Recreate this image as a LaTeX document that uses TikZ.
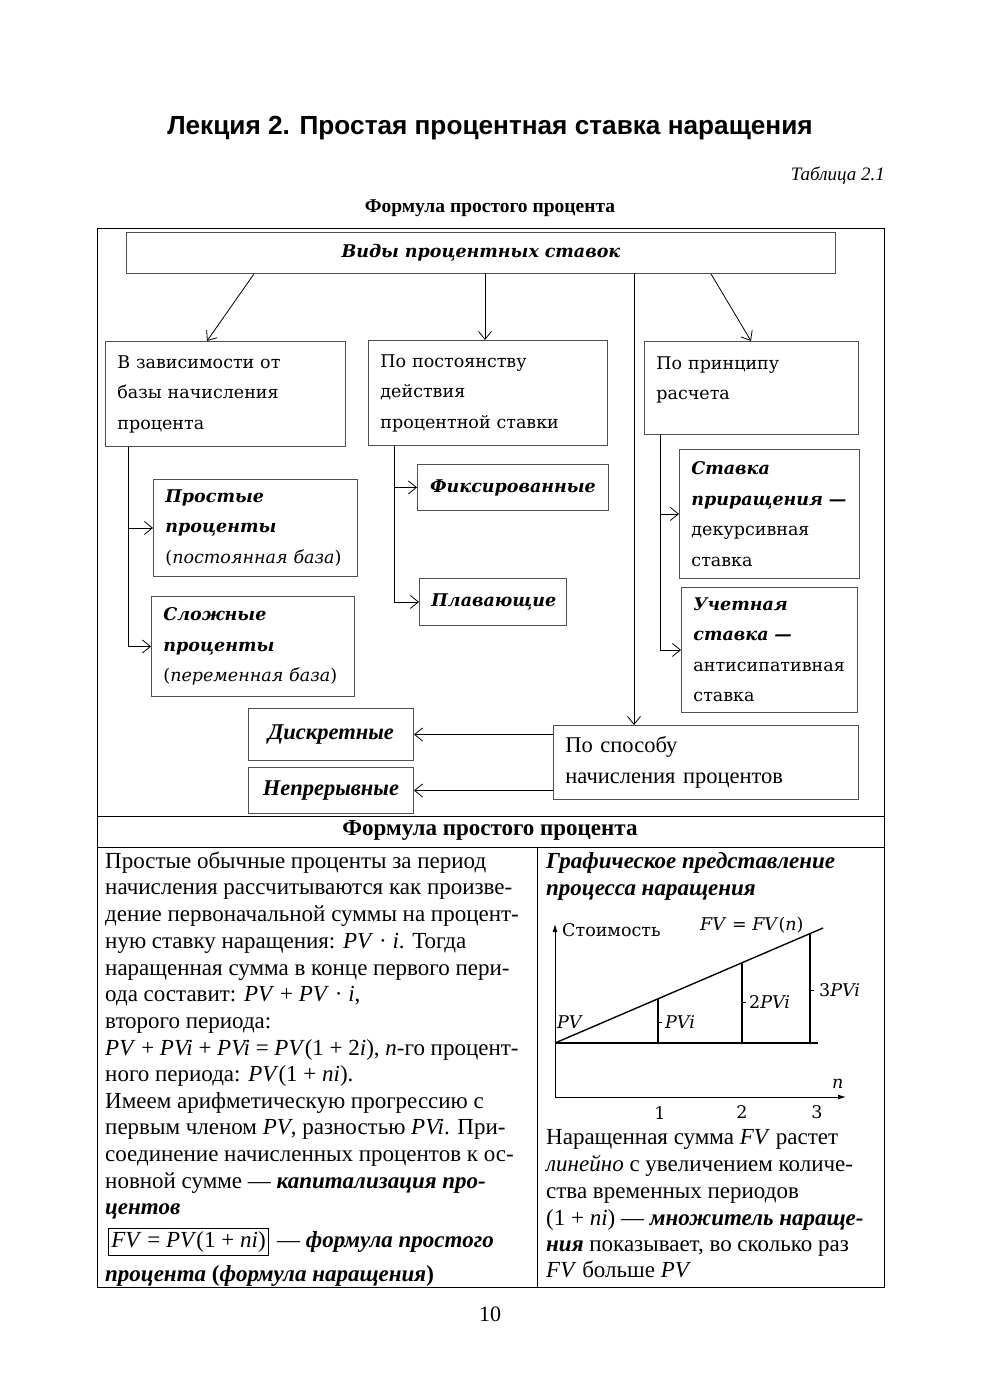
\documentclass[tikz,border=0pt]{standalone}
\usepackage{fontspec}
\setmainfont{Liberation Serif}
\newfontfamily\dvfont{DejaVu Serif}
\newfontfamily\hdfont{Liberation Sans}
\usetikzlibrary{arrows.meta,calc}
\definecolor{boxgray}{HTML}{505050}
\newcommand\boxfnt{\dvfont\fontsize{17.5}{30.5}\selectfont}
\newcommand\tmsfnt{\fontsize{22.5}{30.5}\selectfont}
\newcommand\bi{\bfseries\itshape}
\begin{document}
\begin{tikzpicture}[x=1pt,y=-1pt,
  box/.style={draw=boxgray, line width=0.9pt, rectangle, inner ysep=0pt, inner xsep=12pt,
    anchor=north west, align=left, font=\boxfnt},
  cbox/.style={box, align=center},
  arr/.style={line width=0.8pt, -{Straight Barb[length=8pt,width=13pt]}},
  ln/.style={line width=0.8pt},
  txt/.style={anchor=base west, inner sep=0pt, font=\fontsize{23}{26}\selectfont},
  gtxt/.style={anchor=west, inner sep=0pt, font=\dvfont\fontsize{17.5}{20}\selectfont},
]
\useasboundingbox (0,0) rectangle (980,1386);
% headings
\node[font=\hdfont\bfseries\fontsize{26.2}{30}\selectfont, inner sep=0pt] (title) at (490,128) {Лекция 2. Простая процентная ставка наращения};
\node[font=\itshape\fontsize{19}{22}\selectfont, anchor=east, inner sep=0pt] (tab) at (885,176) {Таблица 2.1};
\node[font=\bfseries\fontsize{19.5}{22}\selectfont, inner sep=0pt] (cap) at (490,208) {Формула простого процента};
% frame
\draw[line width=0.9pt] (97,228) rectangle (884,1287);
\draw[line width=0.9pt] (97,816) -- (884,816);
\draw[line width=0.9pt] (97,847) -- (884,847);
\draw[line width=0.9pt] (537,847) -- (537,1287);
% top diagram
\node[cbox, text width=685pt, minimum height=41pt, font=\boxfnt\bi] (top) at (126,232) {Виды процентных ставок};
\node[box, text width=216pt, minimum height=105pt] (A) at (105,341) {В зависимости от\\базы начисления\\процента};
\node[box, text width=215pt, minimum height=105pt] (B) at (368,340) {По постоянству\\действия\\процентной ставки};
\node[box, text width=190pt, minimum height=93pt] (C) at (644,341) {По принципу\\расчета\\[-11pt]\mbox{}};
\node[box, text width=180pt, minimum height=97pt] (S1) at (153,479) {{\bi Простые}\\{\bi проценты}\\(\textit{постоянная база})};
\node[box, text width=179pt, minimum height=100pt] (S2) at (151,596) {{\bi Сложные}\\{\bi проценты}\\(\textit{переменная база})};
\node[cbox, text width=167pt, minimum height=46pt, font=\boxfnt\bi] (F) at (417,464) {Фиксированные};
\node[cbox, text width=123pt, minimum height=47pt, font=\boxfnt\bi] (Pl) at (419,578) {Плавающие};
\node[box, text width=156pt, minimum height=129pt] (R1) at (679,449) {{\bi Ставка}\\{\bi приращения —}\\декурсивная\\ставка};
\node[box, text width=152pt, minimum height=125pt] (R2) at (681,587) {{\bi Учетная}\\{\bi ставка —}\\антисипативная\\ставка};
\node[box, text width=281pt, minimum height=74pt, font=\tmsfnt] (P) at (553,725) {По способу\\начисления процентов};
\node[cbox, text width=141pt, minimum height=52pt, font=\tmsfnt\bi] (D) at (248,708) {Дискретные};
\node[cbox, text width=141pt, minimum height=46pt, font=\tmsfnt\bi] (N) at (248,767) {Непрерывные};
% connectors
\draw[arr] (254,0 |- top.south) -- (207,0 |- A.north);
\draw[arr] (485,0 |- top.south) -- (485,0 |- B.north);
\draw[arr] (711,0 |- top.south) -- (751,0 |- C.north);
\draw[arr] (634,0 |- top.south) -- (634,0 |- P.north);
\draw[ln] (128,0 |- A.south) -- (128,0 |- S2.west);
\draw[arr] (128,0 |- S1.west) -- (S1.west);
\draw[arr] (128,0 |- S2.west) -- (S2.west);
\draw[ln] (394,0 |- B.south) -- (394,0 |- Pl.west);
\draw[arr] (394,0 |- F.west) -- (F.west);
\draw[arr] (394,0 |- Pl.west) -- (Pl.west);
\draw[ln] (660,0 |- C.south) -- (660,0 |- R2.west);
\draw[arr] (660,0 |- R1.west) -- (R1.west);
\draw[arr] (660,0 |- R2.west) -- (R2.west);
\draw[arr] (P.west |- D.east) -- (D.east);
\draw[arr] (P.west |- N.east) -- (N.east);
% table row heading
\node[font=\bfseries\fontsize{23}{26}\selectfont, inner sep=0pt] (row) at (490,830) {Формула простого процента};
% left column
\node[txt] (l1) at (105,868) {Простые обычные проценты за период};
\node[txt] (l2) at (105,894.5) {начисления рассчитываются как произве-};
\node[txt] (l3) at (105,921) {дение первоначальной суммы на процент-};
\node[txt] (l4) at (105,948) {ную ставку наращения: \textit{PV} · \textit{i}. Тогда};
\node[txt] (l5) at (105,975) {наращенная сумма в конце первого пери-};
\node[txt] (l6) at (105,1001.5) {ода составит: \textit{PV} + \textit{PV} · \textit{i},};
\node[txt] (l7) at (105,1028) {второго периода:};
\node[txt] (l8) at (105,1055) {\textit{PV} + \textit{PVi} + \textit{PVi} = \textit{PV}(1 + 2\textit{i}), \textit{n}-го процент-};
\node[txt] (l9) at (105,1081) {ного периода: \textit{PV}(1 + \textit{ni}).};
\node[txt] (l10) at (105,1108) {Имеем арифметическую прогрессию с};
\node[txt] (l11) at (105,1134.5) {первым членом \textit{PV}, разностью \textit{PVi}. При-};
\node[txt] (l12) at (105,1161) {соединение начисленных процентов к ос-};
\node[txt] (l13) at (105,1188) {новной сумме — {\bi капитализация про-}};
\node[txt] (l14) at (105,1214.5) {\bi центов};
\node[draw, line width=0.8pt, inner xsep=3pt, inner ysep=3pt, anchor=base west, font=\fontsize{23}{26}\selectfont] (fml) at (108,1247) {\textit{FV} = \textit{PV}(1 + \textit{ni})};
\node[txt] (l15) at (277,1247) {— {\bi формула простого}};
\node[txt] (l16) at (105,1281) {{\bi процента} \textbf{(}{\bi формула наращения}\textbf{)}};
% right column
\node[txt] (r1) at (546,868) {\bi Графическое представление};
\node[txt] (r2) at (546,895) {\bi процесса наращения};
% graph
\coordinate (g0) at (555,1097);
\coordinate (gy) at (555,924);
\coordinate (gx) at (846,1097);
\draw[line width=0.9pt, -{Latex[length=8pt,width=5pt]}] (g0) -- (gy);
\draw[line width=0.9pt, -{Latex[length=8pt,width=5pt]}] (g0) -- (gx);
\coordinate (O) at (555,1043);
\coordinate (E) at (823,928);
\draw[line width=2pt] (O) -- (818,1043);
\draw[line width=1.4pt] (O) -- (E);
\draw[line width=1.4pt] (658,1043) -- (658,998.8);
\draw[line width=1.4pt] (742,1043) -- (742,962.8);
\draw[line width=1.4pt] (810,1043) -- (810,933.6);
\draw[line width=0.8pt] (658,1022) -- (662,1022);
\draw[line width=0.8pt] (742,1002) -- (746,1002);
\draw[line width=0.8pt] (810,990) -- (814,990);
\node[gtxt] (st) at (562,930) {Стоимость};
\node[gtxt] (fv) at (700,925) {\textit{FV} = \textit{FV}(\textit{n})};
\node[gtxt] (pv) at (557,1022) {\textit{PV}};
\node[gtxt] (pvi) at (665,1022) {\textit{PVi}};
\node[gtxt] (pvi2) at (749,1002) {2\textit{PVi}};
\node[gtxt] (pvi3) at (819,990) {3\textit{PVi}};
\node[gtxt] (nn) at (832,1084) {\textit{n}};
\node[gtxt, anchor=center] (t1) at (660,1113) {1};
\node[gtxt, anchor=center] (t2) at (742,1112) {2};
\node[gtxt, anchor=center] (t3) at (817,1112) {3};
% right text
\node[txt] (r3) at (546,1144) {Наращенная сумма \textit{FV} растет};
\node[txt] (r4) at (546,1171) {\textit{линейно} с увеличением количе-};
\node[txt] (r5) at (546,1198) {ства временных периодов};
\node[txt] (r6) at (546,1225) {(1 + \textit{ni}) — {\bi множитель нараще-}};
\node[txt] (r7) at (546,1251) {{\bi ния} показывает, во сколько раз};
\node[txt] (r8) at (546,1277) {\textit{FV} больше \textit{PV}};
\node[font=\fontsize{22}{26}\selectfont, inner sep=0pt] (pg) at (490,1314) {10};
\end{tikzpicture}
\end{document}
